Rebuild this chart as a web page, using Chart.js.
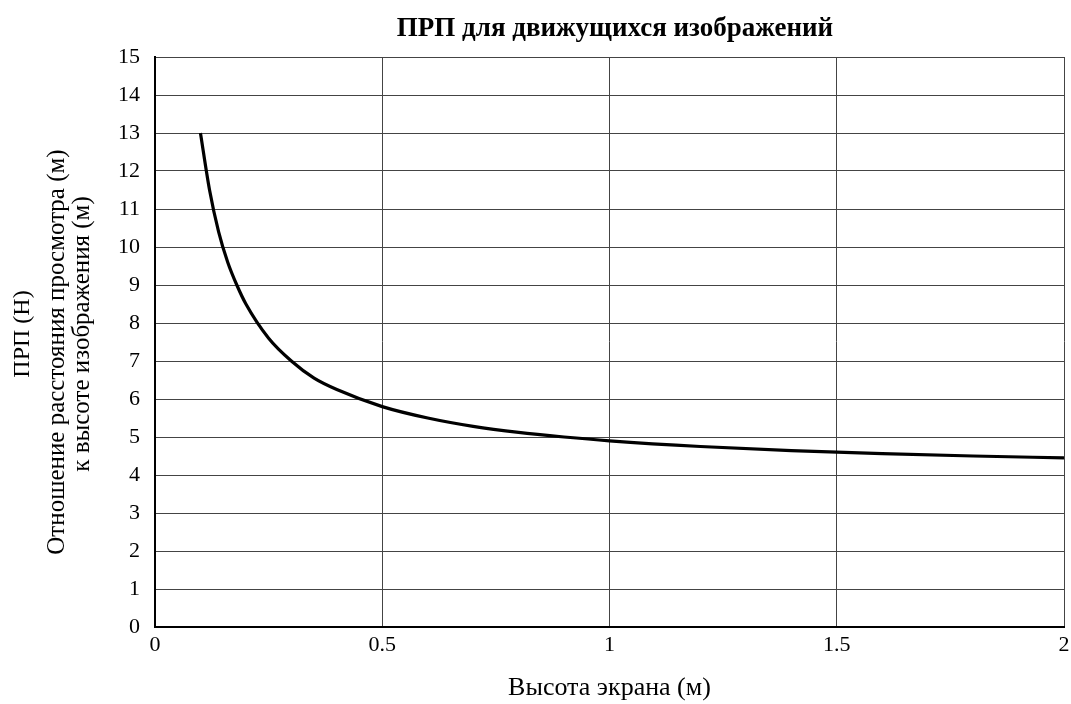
<!DOCTYPE html>
<html>
<head>
<meta charset="utf-8">
<title>ПРП для движущихся изображений</title>
<script src="https://cdn.jsdelivr.net/npm/chart.js@4/dist/chart.umd.min.js"></script>
<style>
  html, body { margin: 0; padding: 0; background: #fff; }
  #wrap { width: 1071px; height: 704px; position: relative; }
</style>
</head>
<body>
<div id="wrap"><canvas id="prpChart"></canvas></div>
<script>
// Screen height (m) and the PRP value
const screenHeights = [0.1, 0.12, 0.14, 0.16, 0.18, 0.2, 0.25, 0.3, 0.35, 0.4, 0.5, 0.6, 0.7, 0.8, 0.9, 1.0, 1.2, 1.4, 1.6, 1.8, 2.0];
const prpValues = [13, 11.5, 10.4, 9.6, 9.0, 8.5, 7.6, 7.0, 6.55, 6.25, 5.8, 5.5, 5.28, 5.12, 5.0, 4.9, 4.75, 4.64, 4.56, 4.5, 4.45];

const chartTitle = 'ПРП для движущихся изображений';
const xTitle = 'Высота экрана (м)';
const yTitleLines = ['ПРП (Н)', 'Отношение расстояния просмотра (м)', 'к высоте изображения (м)'];

const serif = '"Liberation Serif", "Times New Roman", serif';

// white page behind the chart
const whiteBg = {
    id: 'whiteBg',
    beforeDraw(chart) {
        const ctx = chart.ctx;
        ctx.save();
        ctx.fillStyle = '#fff';
        ctx.fillRect(0, 0, chart.width, chart.height);
        ctx.restore();
    }
};

// chart title (sits a bit right of canvas centre) and the 3-line y title
const titles = {
    id: 'titles',
    afterDraw(chart) {
        const ctx = chart.ctx;
        ctx.save();
        ctx.fillStyle = '#000';
        ctx.textAlign = 'center';
        ctx.textBaseline = 'middle';

        ctx.font = 'bold 27px ' + serif;
        ctx.fillText(chartTitle, 615, 29);

        const xs = [23, 57, 82];
        const ys = [334, 352, 334];
        const sizes = [24, 25, 25];
        yTitleLines.forEach((line, i) => {
            ctx.save();
            ctx.translate(xs[i], ys[i]);
            ctx.rotate(-Math.PI / 2);
            ctx.font = sizes[i] + 'px ' + serif;
            ctx.fillText(line, 0, 0);
            ctx.restore();
        });
        ctx.restore();
    }
};

const points = screenHeights.map((h, i) => ({ x: h, y: prpValues[i] }));

new Chart(document.getElementById('prpChart').getContext('2d'), {
    type: 'line',
    data: {
        datasets: [{
            data: points,
            borderColor: '#000',
            borderWidth: 3.2,
            pointRadius: 0,
            fill: false,
            cubicInterpolationMode: 'monotone'
        }]
    },
    options: {
        responsive: true,
        maintainAspectRatio: false,
        animation: false,
        layout: { padding: { left: 0, right: 7, top: 57, bottom: 0 } },
        plugins: {
            legend: { display: false },
            tooltip: { enabled: false },
            title: { display: false }
        },
        scales: {
            x: {
                type: 'linear',
                min: 0,
                max: 2,
                ticks: {
                    stepSize: 0.5,
                    color: '#000',
                    padding: 5,
                    font: { family: serif, size: 22 },
                    callback: v => String(v)
                },
                grid: { color: '#444', lineWidth: 1, drawTicks: false },
                border: { color: '#000', width: 2 },
                title: {
                    display: true,
                    text: xTitle,
                    color: '#000',
                    font: { family: serif, size: 26 },
                    padding: { top: 0, bottom: 0 }
                },
                afterFit(scale) {
                    scale.height = 77;
                    scale.paddingRight = 0;
                    scale.paddingLeft = 0;
                }
            },
            y: {
                min: 0,
                max: 15,
                ticks: {
                    stepSize: 1,
                    color: '#000',
                    padding: 15,
                    font: { family: serif, size: 22 }
                },
                grid: { color: '#444', lineWidth: 1, drawTicks: false },
                border: { color: '#000', width: 2 },
                afterFit(scale) { scale.width = 155; }
            }
        }
    },
    plugins: [whiteBg, titles]
});
</script>
</body>
</html>
